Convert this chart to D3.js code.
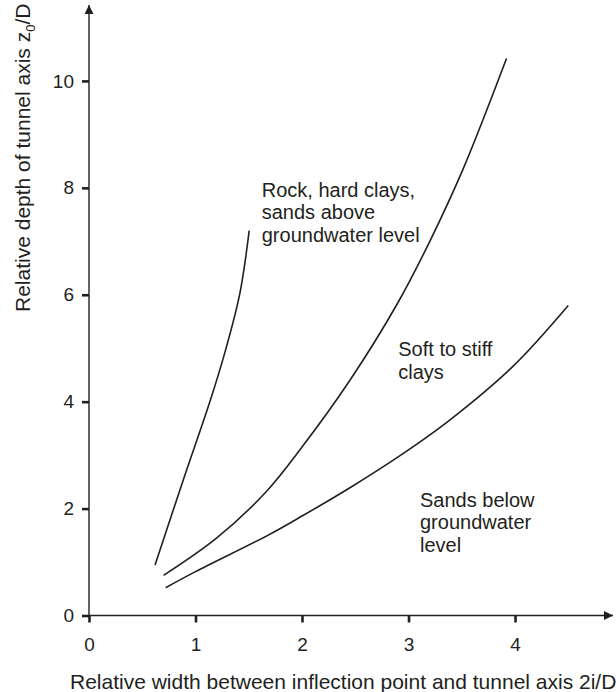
<!DOCTYPE html>
<html>
<head>
<meta charset="utf-8">
<script src="https://cdn.jsdelivr.net/npm/d3@7"></script>
<style>
  html, body { margin: 0; padding: 0; background: #fff; }
  svg { display: block; }
  text { font-family: "Liberation Sans", Arial, Helvetica, sans-serif; fill: #231f20; }
</style>
</head>
<body>
<svg id="chart" width="616" height="692"></svg>
<script>
// Relative width 2i/D against relative depth z0/D for three ground types
const rockSeries = [
  [0.62, 0.945], [0.885, 2.535], [1.14, 4.03],
  [1.28, 4.95], [1.417, 6.03], [1.504, 7.20]
];
const softClaySeries = [
  [0.70, 0.75], [1.20, 1.45], [1.67, 2.33], [2.00, 3.15],
  [2.45, 4.40], [2.90, 5.85], [3.20, 7.00], [3.51, 8.34], [3.92, 10.42]
];
const sandSeries = [
  [0.72, 0.52], [1.00, 0.82], [1.67, 1.49], [2.00, 1.86], [2.45, 2.39],
  [2.92, 2.99], [3.39, 3.66], [3.98, 4.66], [4.50, 5.80]
];
const xTicks = [0, 1, 2, 3, 4];
const yTicks = [0, 2, 4, 6, 8, 10];

const curveLabels = [
  { lines: ["Rock, hard clays,", "sands above", "groundwater level"], x: 1.622, y: 7.835 },
  { lines: ["Soft to stiff", "clays"], x: 2.904, y: 4.855 },
  { lines: ["Sands below", "groundwater", "level"], x: 3.108, y: 2.035 }
];

const ink = "#231f20";
const svg = d3.select("#chart");

const x = d3.scaleLinear().domain([0, 4.92]).range([89, 613]);
const y = d3.scaleLinear().domain([0, 11.42]).range([615.5, 5]);

// arrowheads for both axes
svg.append("defs").append("marker")
  .attr("id", "arrow")
  .attr("viewBox", "0 0 10 10")
  .attr("refX", 10).attr("refY", 5)
  .attr("markerWidth", 13).attr("markerHeight", 9)
  .attr("markerUnits", "userSpaceOnUse")
  .attr("orient", "auto")
  .append("path")
  .attr("d", "M0,0 L10,5 L0,10 Z")
  .attr("fill", ink);

const fontStack = "'Liberation Sans', Arial, sans-serif";

// x axis ticks
const xAxis = svg.append("g")
  .attr("transform", `translate(0,${y(0)})`)
  .call(d3.axisBottom(x).tickValues(xTicks).tickFormat(d3.format("d"))
    .tickSize(7).tickSizeOuter(0).tickPadding(15));
xAxis.select(".domain").remove();
xAxis.selectAll(".tick line").attr("stroke", ink).attr("stroke-width", 2.6);
xAxis.selectAll(".tick text").attr("font-size", 19).attr("fill", ink)
  .style("font-family", fontStack);

// y axis ticks
const yAxis = svg.append("g")
  .attr("transform", `translate(${x(0)},0)`)
  .call(d3.axisLeft(y).tickValues(yTicks).tickFormat(d3.format("d"))
    .tickSize(7).tickSizeOuter(0).tickPadding(8));
yAxis.select(".domain").remove();
yAxis.selectAll(".tick line").attr("stroke", ink).attr("stroke-width", 2.6);
yAxis.selectAll(".tick text").attr("font-size", 19).attr("fill", ink)
  .style("font-family", fontStack);

// axis lines with arrows
svg.append("line")
  .attr("x1", x(0)).attr("y1", y(0))
  .attr("x2", x(4.92)).attr("y2", y(0))
  .attr("stroke", ink).attr("stroke-width", 1.4)
  .attr("marker-end", "url(#arrow)");
svg.append("line")
  .attr("x1", x(0)).attr("y1", y(0))
  .attr("x2", x(0)).attr("y2", y(11.42))
  .attr("stroke", ink).attr("stroke-width", 1.4)
  .attr("marker-end", "url(#arrow)");

// curves
const line = d3.line()
  .x(d => x(d[0]))
  .y(d => y(d[1]))
  .curve(d3.curveCatmullRom.alpha(0.5));

[rockSeries, softClaySeries, sandSeries].forEach(series => {
  svg.append("path")
    .datum(series)
    .attr("d", line)
    .attr("fill", "none")
    .attr("stroke", ink)
    .attr("stroke-width", 1.6);
});

// curve annotations
curveLabels.forEach(lbl => {
  const t = svg.append("text")
    .attr("x", x(lbl.x))
    .attr("y", y(lbl.y))
    .attr("font-size", 20);
  lbl.lines.forEach((s, i) => {
    t.append("tspan")
      .attr("x", x(lbl.x))
      .attr("dy", i === 0 ? 0 : 22.7)
      .text(s);
  });
});

// axis titles
svg.append("text")
  .attr("x", 70)
  .attr("y", 689)
  .attr("font-size", 21)
  .text("Relative width between inflection point and tunnel axis  2i/D");

const yTitle = svg.append("text")
  .attr("transform", "translate(30,312) rotate(-90)")
  .attr("font-size", 21);
yTitle.append("tspan").text("Relative depth of tunnel axis  z");
yTitle.append("tspan").attr("font-size", 13).attr("dy", 5).text("0");
yTitle.append("tspan").attr("dy", -5).text("/D");
</script>
</body>
</html>
